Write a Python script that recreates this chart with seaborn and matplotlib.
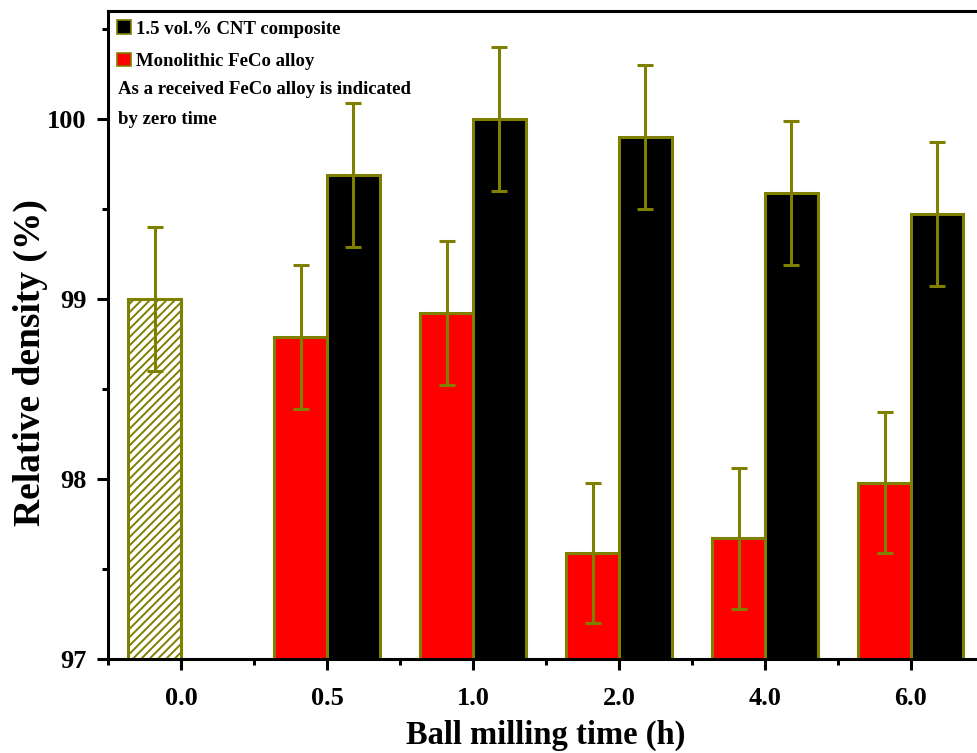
import numpy as np
import pandas as pd
import matplotlib
matplotlib.use("Agg")
import matplotlib.pyplot as plt
from matplotlib.patches import Patch
from matplotlib.ticker import FixedLocator, MultipleLocator
import seaborn as sns

# Relative density of FeCo alloy vs ball milling time
times = ["0.0", "0.5", "1.0", "2.0", "4.0", "6.0"]
monolithic = [99.00, 98.79, 98.92, 97.59, 97.67, 97.98]
monolithic_err = [0.40, 0.40, 0.40, 0.39, 0.39, 0.39]
cnt_times = ["0.5", "1.0", "2.0", "4.0", "6.0"]
cnt = [99.69, 100.00, 99.90, 99.59, 99.47]
cnt_err = [0.40, 0.40, 0.40, 0.40, 0.40]

series_mono = "Monolithic FeCo alloy"
series_cnt = "1.5 vol.% CNT composite"

df = pd.concat([
    pd.DataFrame({"time": times, "density": monolithic, "err": monolithic_err, "series": series_mono}),
    pd.DataFrame({"time": cnt_times, "density": cnt, "err": cnt_err, "series": series_cnt}),
], ignore_index=True)

OLIVE = "#808000"
FONT = "Liberation Serif"

sns.set_theme(style="ticks")
plt.rcParams["font.family"] = [FONT, "DejaVu Serif"]
plt.rcParams["font.weight"] = "bold"
plt.rcParams["hatch.linewidth"] = 1.4
for key in ["text.color", "axes.labelcolor", "xtick.color", "ytick.color",
            "xtick.labelcolor", "ytick.labelcolor"]:
    plt.rcParams[key] = "black"

fig = plt.figure(figsize=(9.77, 7.53), dpi=100)
ax = fig.add_axes([0.1105, 0.1248, 0.8966, 0.8606])

sns.barplot(data=df, x="time", y="density", hue="series", order=times,
            hue_order=[series_mono, series_cnt],
            palette={series_mono: "#ff0000", series_cnt: "#000000"},
            saturation=1, width=0.72, errorbar=None, edgecolor=OLIVE,
            linewidth=2.2, legend=False, ax=ax)

# error bars on top of every bar, the as-received alloy drawn hatched
for hue, container in zip([series_mono, series_cnt], ax.containers):
    sub = df[df["series"] == hue].set_index("time")
    for bar in container:
        xc = bar.get_x() + bar.get_width() / 2
        t = times[int(round(xc))]
        if hue == series_mono and t == "0.0":
            bar.set_facecolor("white")
            bar.set_hatch("////")
        ax.errorbar(xc, sub.loc[t, "density"], yerr=sub.loc[t, "err"],
                    fmt="none", ecolor=OLIVE, elinewidth=2.2,
                    capsize=5.5, capthick=2.2, zorder=5)

ax.set_xlim(-0.5, 5.5)
ax.set_ylim(97, 100.6)
ax.yaxis.set_major_locator(FixedLocator([97, 98, 99, 100]))
ax.yaxis.set_minor_locator(MultipleLocator(0.5))
ax.set_yticklabels(["97", "98", "99", "100"])
ax.xaxis.set_minor_locator(FixedLocator(np.arange(-0.5, 6.0, 1.0)))

for side in ["left", "bottom", "top", "right"]:
    ax.spines[side].set_visible(True)
    ax.spines[side].set_linewidth(2.2)
    ax.spines[side].set_color("black")

ax.tick_params(axis="both", which="major", direction="out", length=8, width=2.2,
               labelsize=19, color="black", labelcolor="black")
ax.tick_params(axis="both", which="minor", direction="out", length=4.5, width=2.2,
               color="black")
ax.tick_params(axis="x", which="major", pad=12.5)
ax.tick_params(axis="y", which="major", pad=7.2)
ax.tick_params(top=False, right=False, which="both")
for lab in ax.get_xticklabels() + ax.get_yticklabels():
    lab.set_fontweight("bold")

ax.set_xlabel("Ball milling time (h)", fontsize=23.5, fontweight="bold", labelpad=6.5)
ax.set_ylabel("Relative density (%)", fontsize=27, fontweight="bold")
ax.yaxis.set_label_coords(-0.0685, 0.457)

handles = [Patch(facecolor="black", edgecolor=OLIVE, linewidth=1.2, label=series_cnt),
           Patch(facecolor="#ff0000", edgecolor=OLIVE, linewidth=1.2, label=series_mono)]
leg = ax.legend(handles=handles, loc="upper left", bbox_to_anchor=(0.0, 1.0),
                frameon=False, prop={"family": FONT, "weight": "bold", "size": 13.5},
                handlelength=0.72, handleheight=0.72, handletextpad=0.25,
                labelspacing=0.8, borderaxespad=0.15, borderpad=0.35)

ax.text(0.0114, 0.8796, "As a received FeCo alloy is indicated", transform=ax.transAxes,
        fontsize=13.5, fontweight="bold", va="center", ha="left")
ax.text(0.0114, 0.8318, "by zero time", transform=ax.transAxes,
        fontsize=13.5, fontweight="bold", va="center", ha="left")

fig.savefig("out.png", dpi=100)
